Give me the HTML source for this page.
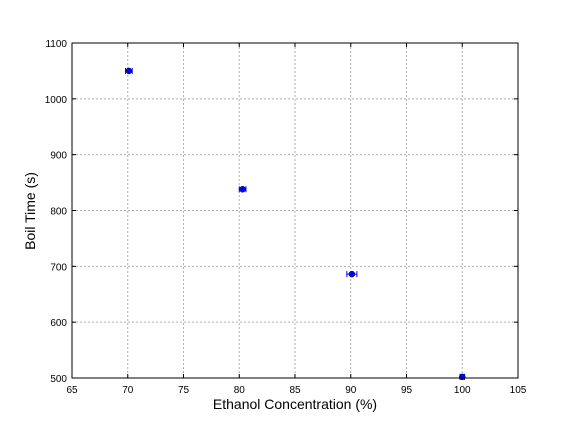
<!DOCTYPE html>
<html><head><meta charset="utf-8"><style>
body{margin:0;background:#fff;font-family:"Liberation Sans",sans-serif}
text{font-family:"Liberation Sans",sans-serif}
</style></head><body>
<svg id="chart" width="576" height="432" xmlns="http://www.w3.org/2000/svg">
<rect width="576" height="432" fill="#fff"/>
<g id="grid"></g><g id="ticks"></g><g id="marks"></g>
<rect x="72" y="43" width="446" height="335" fill="none" stroke="#000" stroke-width="1"/>
<text x="295" y="409" font-size="14" text-anchor="middle">Ethanol Concentration (%)</text>
<text x="35" y="211" font-size="14" text-anchor="middle" transform="rotate(-90 35 211)">Boil Time (s)</text>
</svg>
<script>
const xTicks=[65,70,75,80,85,90,95,100,105];
const yTicks=[500,600,700,800,900,1000,1100];
const conc=[70.1,80.3,90.1,100];
const boil=[1050,838,686,502];
const xErr=[0.3,0.3,0.45,0.2];
const X0=72,X1=518,Y0=378,Y1=43;
const sx=v=>X0+(v-65)/(105-65)*(X1-X0);
const sy=v=>Y0-(v-500)/(1100-500)*(Y0-Y1);
const NS="http://www.w3.org/2000/svg";
function mk(t,a,p){const e=document.createElementNS(NS,t);for(const k in a)e.setAttribute(k,a[k]);p.appendChild(e);return e;}
const grid=document.getElementById('grid'),ticks=document.getElementById('ticks'),marks=document.getElementById('marks');
xTicks.forEach(v=>{const x=sx(v);
 const g=mk('line',{x1:x,x2:x,y1:Y1,y2:Y0,stroke:'#b0b0b0','stroke-dasharray':'2,2'},grid);
 
 
 mk('line',{x1:x,x2:x,y1:Y0,y2:Y0-4,stroke:'#000'},ticks);
 mk('line',{x1:x,x2:x,y1:Y1,y2:Y1+4,stroke:'#000'},ticks);
 const t=mk('text',{x:x,y:Y0+15,'font-size':10,'text-anchor':'middle'},ticks);t.textContent=v;
 
 
});
yTicks.forEach(v=>{const y=sy(v);
 const g=mk('line',{x1:X0,x2:X1,y1:y,y2:y,stroke:'#b0b0b0','stroke-dasharray':'2,2'},grid);
 
 
 mk('line',{x1:X0,x2:X0+4,y1:y,y2:y,stroke:'#000'},ticks);
 mk('line',{x1:X1,x2:X1-4,y1:y,y2:y,stroke:'#000'},ticks);
 const t=mk('text',{x:X0-5,y:y+4,'font-size':10,'text-anchor':'end'},ticks);t.textContent=v;
 
 
});
conc.forEach((c,i)=>{const x=sx(c),y=sy(boil[i]),xl=sx(c-xErr[i]),xr=sx(c+xErr[i]);
 const g=mk('g',{},marks);
 
 
 mk('line',{x1:xl,x2:xr,y1:y,y2:y,stroke:'#0000ff'},g);
 mk('line',{x1:xl,x2:xl,y1:y-3,y2:y+3,stroke:'#0000ff'},g);
 mk('line',{x1:xr,x2:xr,y1:y-3,y2:y+3,stroke:'#0000ff'},g);
 mk('circle',{cx:x,cy:y,r:3,fill:'#0000ff',stroke:'#000','stroke-width':0.5},g);
});
</script>
</body></html>
